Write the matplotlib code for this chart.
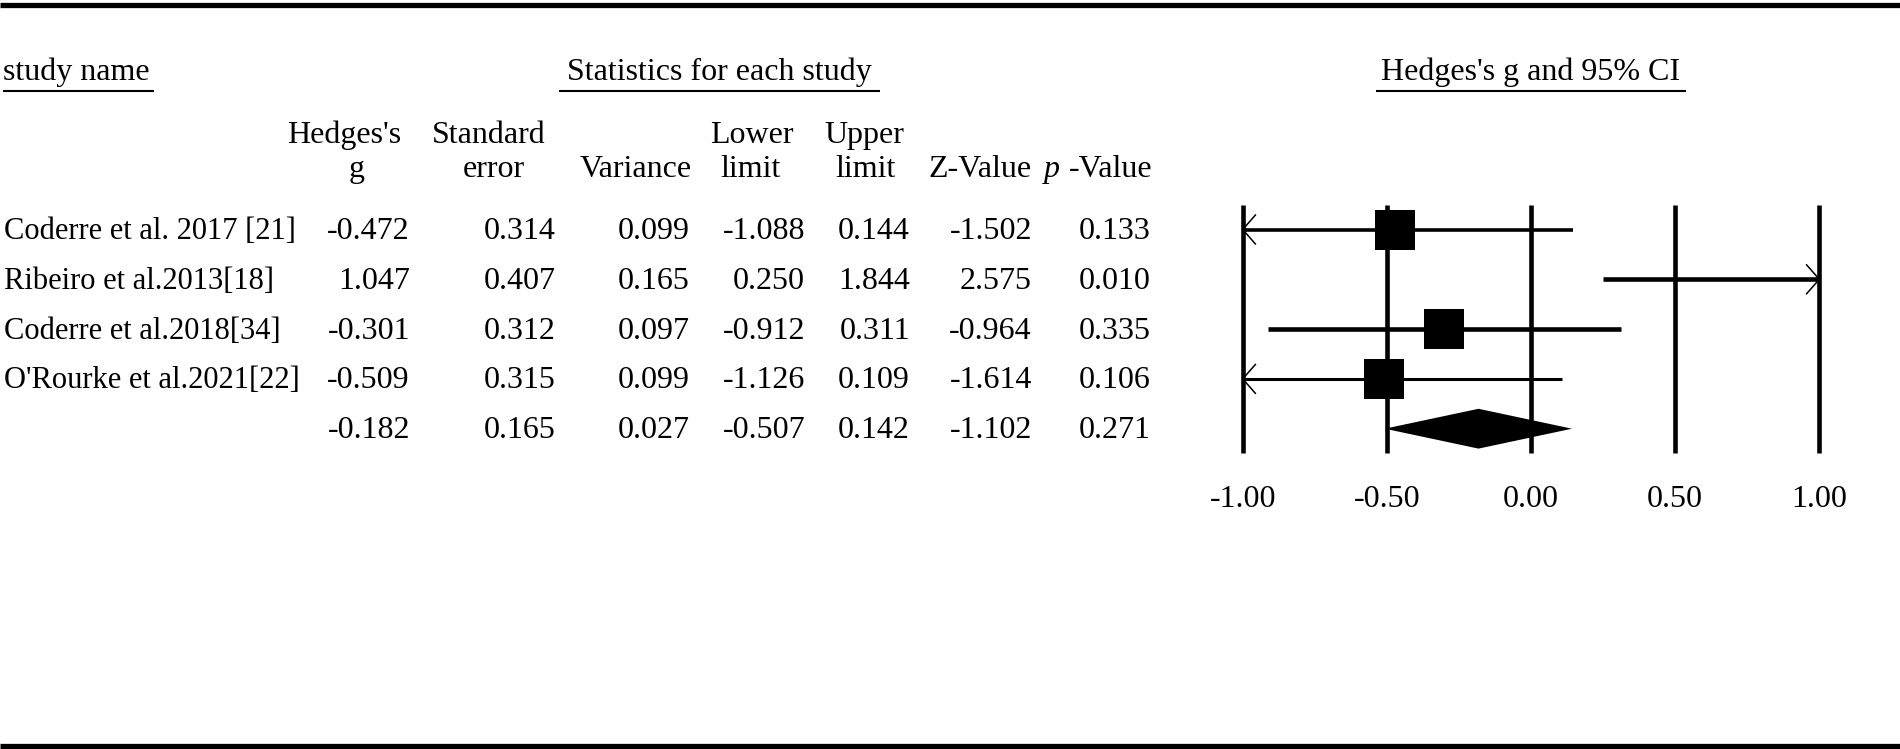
import numpy as np
import matplotlib
matplotlib.use('Agg')
from matplotlib import pyplot as plt
from matplotlib.patches import Polygon

plt.rcParams['font.family'] = ['Liberation Serif', 'DejaVu Serif']

# study rows, the last row is the pooled (summary) estimate
studyNames = ['Coderre et al. 2017 [21]', 'Ribeiro et al.2013[18]',
              'Coderre et al.2018[34]', "O'Rourke et al.2021[22]", '']
hedgesG = [-0.472, 1.047, -0.301, -0.509, -0.182]
stdError = [0.314, 0.407, 0.312, 0.315, 0.165]
variance = [0.099, 0.165, 0.097, 0.099, 0.027]
lowerLimit = [-1.088, 0.250, -0.912, -1.126, -0.507]
upperLimit = [0.144, 1.844, 0.311, 0.109, 0.142]
zValue = [-1.502, 2.575, -0.964, -1.614, -1.102]
pValue = [0.133, 0.010, 0.335, 0.106, 0.271]
axisTicks = [-1.0, -0.5, 0.0, 0.5, 1.0]

W, H = 1900, 749
FS = 23
rowY0 = 229.5
rowStep = 49.8

fig = plt.figure(figsize=(W / 100, H / 100), dpi=100)

# table part in pixel coordinates
tab = fig.add_axes([0, 0, 1, 1])
tab.set_xlim(0, W)
tab.set_ylim(H, 0)
tab.axis('off')

tab.plot([0, W], [4.5, 4.5], color='black', lw=3.8, solid_capstyle='butt')
tab.plot([0, W], [745.5, 745.5], color='black', lw=3.8, solid_capstyle='butt')

def titleUnder(text, x, ha, x0, x1):
  tab.text(x, 80, text, ha=ha, va='baseline', fontsize=FS)
  tab.plot([x0, x1], [90.5, 90.5], color='black', lw=1.5, solid_capstyle='butt')

titleUnder('study name', 3, 'left', 3, 154)
titleUnder('Statistics for each study', 719.5, 'center', 559, 880)
titleUnder("Hedges's g and 95% CI", 1531, 'center', 1376, 1686)

headers = [("Hedges's", 344, 143, 'center'), ('g', 357, 177, 'center'),
           ('Standard', 489, 143, 'center'), ('error', 494, 177, 'center'),
           ('Variance', 692, 177, 'right'),
           ('Lower', 752, 143, 'center'), ('limit', 751, 177, 'center'),
           ('Upper', 864, 143, 'center'), ('limit', 866, 177, 'center'),
           ('Z-Value', 1032, 177, 'right')]
for txt, x, y, ha in headers:
  tab.text(x, y, txt, ha=ha, va='baseline', fontsize=FS)
pv = tab.text(1153, 177, '-Value', ha='right', va='baseline', fontsize=FS)
tab.annotate('p', xy=(0, 0), xycoords=pv, xytext=(-7, 0),
             textcoords='offset points', ha='right', va='bottom',
             fontsize=FS, style='italic')

columns = [hedgesG, stdError, variance, lowerLimit, upperLimit, zValue, pValue]
colRight = [410, 556, 690, 805, 910, 1032, 1151]
for i in range(len(studyNames)):
  y = rowY0 + i * rowStep + 9.5
  tab.text(4, y, studyNames[i], ha='left', va='baseline', fontsize=22)
  for col, xr in zip(columns, colRight):
    tab.text(xr, y, '%.3f' % col[i], ha='right', va='baseline', fontsize=FS)

# forest plot
fx0, fx1 = 1242.7, 1819.3
fy0, fy1 = 205, 453
ax = fig.add_axes([fx0 / W, (H - fy1) / H, (fx1 - fx0) / W, (fy1 - fy0) / H])
ax.patch.set_alpha(0)
ax.set_xlim(axisTicks[0], axisTicks[-1])
ax.set_ylim((fy1 - rowY0) / rowStep, (fy0 - rowY0) / rowStep)
for s in ax.spines.values():
  s.set_visible(False)
ax.set_yticks([])
ax.set_xticks(axisTicks)
ax.set_xticklabels(['%.2f' % t for t in axisTicks], fontsize=FS)
ax.tick_params(axis='x', length=0, pad=23)

for t in axisTicks:
  ax.axvline(t, color='black', lw=3.3, clip_on=False, solid_capstyle='butt')

lo, hi = axisTicks[0], axisTicks[-1]
lineWidths = [2.6, 3.3, 3.3, 2.2]
arrowDx = 0.044
arrowDy = 0.29
nStudies = len(studyNames) - 1
for i in range(nStudies):
  a = max(lowerLimit[i], lo)
  b = min(upperLimit[i], hi)
  ax.plot([a, b], [i, i], color='black', lw=lineWidths[i], solid_capstyle='butt')
  if lowerLimit[i] < lo:
    ax.plot([lo + arrowDx, lo, lo + arrowDx], [i - arrowDy, i, i + arrowDy],
            color='black', lw=1.1, clip_on=False)
  if upperLimit[i] > hi:
    ax.plot([hi - arrowDx, hi, hi - arrowDx], [i - arrowDy, i, i + arrowDy],
            color='black', lw=1.1, clip_on=False)
  if lo <= hedgesG[i] <= hi:
    ax.plot(hedgesG[i], i, marker='s', markersize=28.5, color='black', mew=0)

k = nStudies
dh = 0.40
diamond = Polygon([[lowerLimit[k], k], [hedgesG[k], k - dh],
                   [upperLimit[k], k], [hedgesG[k], k + dh]],
                  closed=True, color='black', lw=0)
ax.add_patch(diamond)

fig.savefig('out.png', dpi=100)
